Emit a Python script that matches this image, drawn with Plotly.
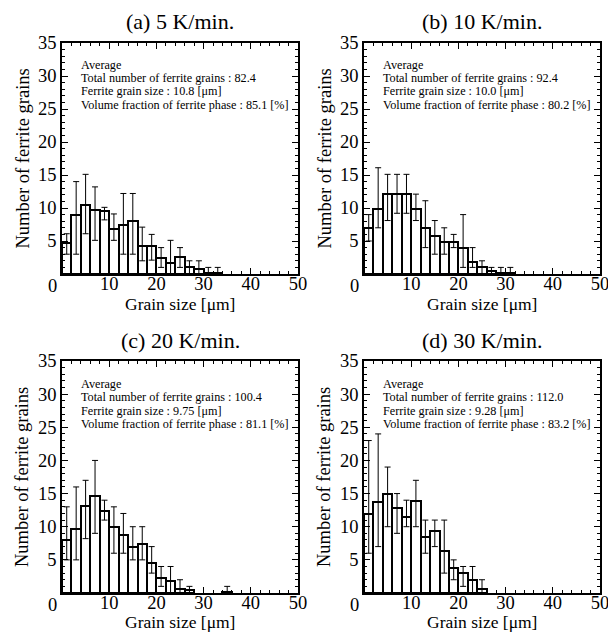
import plotly.graph_objects as go

# ---------------- data ----------------
bin_width = 2.0
panel_titles = ["(a) 5 K/min.", "(b) 10 K/min.", "(c) 20 K/min.", "(d) 30 K/min."]

a_counts = [4.7, 9.0, 10.5, 9.7, 9.5, 6.8, 7.5, 8.1, 4.2, 4.2, 2.5, 1.6, 2.6, 1.1, 0.8, 0.2, 0.2]
a_hi = [6.1, 14.0, 15.1, 13.2, 10.1, 9.1, 12.2, 12.2, 7.1, 6.0, 4.0, 5.1, 4.0, 2.0, 2.0, 1.0, 1.0]
a_lo = [3.0, 3.0, 6.1, 5.1, 8.2, 5.1, 3.0, 3.0, 2.0, 2.1, 1.0, 0.0, 1.0, 0.0, 0.0, 0.0, 0.0]

b_counts = [7.0, 9.9, 12.1, 12.1, 12.1, 9.9, 7.0, 5.7, 4.8, 4.8, 4.0, 1.8, 1.0, 0.5, 0.2, 0.2]
b_hi = [9.0, 16.1, 15.1, 15.1, 15.1, 12.1, 11.1, 8.1, 7.0, 6.0, 9.0, 4.0, 2.0, 1.0, 1.0, 1.0]
b_lo = [5.0, 7.0, 8.1, 9.2, 9.2, 8.1, 4.0, 3.0, 3.0, 4.0, 1.0, 1.0, 0.0, 0.0, 0.0, 0.0]

c_counts = [8.0, 9.7, 13.2, 14.6, 12.3, 10.0, 8.7, 7.0, 7.4, 4.6, 2.3, 1.8, 0.6, 0.4, 0, 0, 0, 0.2]
c_hi = [13.0, 16.0, 17.0, 20.0, 14.0, 13.0, 12.0, 10.0, 10.0, 7.0, 4.0, 4.0, 2.0, 1.0, 0, 0, 0, 1.0]
c_lo = [5.0, 5.0, 8.2, 9.0, 11.0, 6.0, 6.0, 5.0, 5.0, 3.0, 1.0, 0.0, 0.0, 0.0, 0, 0, 0, 0.0]

d_counts = [11.9, 13.7, 15.0, 12.8, 11.4, 13.9, 8.5, 9.4, 6.4, 3.8, 3.0, 2.0, 0.6]
d_hi = [23.0, 24.0, 19.0, 15.0, 14.0, 17.0, 11.0, 11.0, 11.0, 5.0, 4.0, 4.0, 2.0]
d_lo = [6.0, 7.0, 10.0, 9.0, 10.0, 10.0, 6.0, 7.0, 3.0, 2.0, 1.0, 0.0, 0.0]

total_grains = ["82.4", "92.4", "100.4", "112.0"]
grain_size = ["10.8", "10.0", "9.75", "9.28"]
vol_fraction = ["85.1", "80.2", "81.1", "83.2"]

x_ticks = [10, 20, 30, 40, 50]
y_ticks = [5, 10, 15, 20, 25, 30, 35]

# ---------------- layout geometry ----------------
# The page body has an 8px margin, so the figure is drawn 8px smaller
# and positions are given in window pixels minus that offset.
OFF = 8
W, H = 616 - OFF, 633 - OFF
FONT = "Liberation Serif"


def px(X):
    return (X - OFF) / W


def py(Y):
    return 1 - (Y - OFF) / H


x_domains = [(px(62), px(298)), (px(364), px(600))]
plot_top = [43, 361]
plot_bottom = [274, 593]
y_domains = [(py(plot_bottom[r]), py(plot_top[r])) for r in range(2)]
title_y = [22, 340]
xtitle_y = [303.5, 622.3]
ytitle_x = 22
stats_line_offsets = [-209.5, -196.0, -182.5, -169.0]  # px relative to plot bottom

panels = [
    (a_counts, a_hi, a_lo),
    (b_counts, b_hi, b_lo),
    (c_counts, c_hi, c_lo),
    (d_counts, d_hi, d_lo),
]

fig = go.Figure()
annotations = []
layout_axes = {}

for i, (counts, hi, lo) in enumerate(panels):
    col = i % 2
    row = i // 2
    n = i + 1
    xa = "x" if n == 1 else f"x{n}"
    ya = "y" if n == 1 else f"y{n}"
    xs, ys, ep, em = [], [], [], []
    for k, c in enumerate(counts):
        if c <= 0:
            continue
        xs.append(bin_width * k + bin_width / 2)
        ys.append(c)
        ep.append(hi[k] - c)
        em.append(c - lo[k])
    fig.add_trace(go.Bar(
        x=xs, y=ys, width=bin_width, xaxis=xa, yaxis=ya,
        marker=dict(color="white", line=dict(color="black", width=2)),
        error_y=dict(type="data", array=ep, arrayminus=em, symmetric=False,
                     color="black", thickness=1, width=3),
        showlegend=False,
    ))
    axis_common = dict(
        showline=True, linecolor="black", linewidth=1.5, mirror="allticks",
        ticks="inside", ticklen=6, tickwidth=1, tickcolor="black",
        showgrid=False, zeroline=False, automargin=False,
        tickfont=dict(family=FONT, size=18.5, color="black"),
    )
    layout_axes["xaxis" if n == 1 else f"xaxis{n}"] = dict(
        axis_common, domain=list(x_domains[col]), range=[0, 50],
        anchor=ya, tickvals=x_ticks, ticklabelstandoff=-8,
        minor=dict(ticks="inside", dtick=2, ticklen=3, tickcolor="black", tickwidth=1),
    )
    layout_axes["yaxis" if n == 1 else f"yaxis{n}"] = dict(
        axis_common, domain=list(y_domains[row]), range=[0, 35],
        anchor=xa, tickvals=y_ticks,
        minor=dict(ticks="inside", dtick=1, ticklen=3, tickcolor="black", tickwidth=1),
    )
    # origin "0" label shifted left of the corner
    annotations.append(dict(
        x=0, y=0, xref=xa, yref=ya, text="0", showarrow=False,
        xanchor="center", yanchor="top", xshift=-10, yshift=-1, borderpad=0,
        font=dict(family=FONT, size=18.5, color="black"),
    ))
    # stats text, one annotation per line for tight spacing
    lines = ["Average",
             "Total number of ferrite grains : " + total_grains[i],
             "Ferrite grain size : " + grain_size[i] + " [μm]",
             "Volume fraction of ferrite phase : " + vol_fraction[i] + " [%]"]
    xd = x_domains[col]
    yd = y_domains[row]
    for li, line in enumerate(lines):
        annotations.append(dict(
            x=xd[0] + 18 / W, y=py(plot_bottom[row] + stats_line_offsets[li]),
            xref="paper", yref="paper", text=line, showarrow=False,
            xanchor="left", yanchor="middle", align="left", borderpad=0,
            font=dict(family=FONT, size=12.2, color="black"),
        ))
    # panel title
    annotations.append(dict(
        x=(xd[0] + xd[1]) / 2, y=py(title_y[row]), xref="paper", yref="paper",
        text=panel_titles[i], showarrow=False, xanchor="center", yanchor="middle",
        font=dict(family=FONT, size=22, color="black"),
    ))
    # x-axis title
    annotations.append(dict(
        x=(xd[0] + xd[1]) / 2, y=py(xtitle_y[row]), xref="paper", yref="paper",
        text="Grain size [μm]", showarrow=False, xanchor="center", yanchor="middle",
        borderpad=0, font=dict(family=FONT, size=17.5, color="black"),
    ))
    # y-axis title
    annotations.append(dict(
        x=px(ytitle_x + col * 302), y=(yd[0] + yd[1]) / 2, xref="paper", yref="paper",
        text="Number of ferrite grains", showarrow=False, textangle=-90,
        xanchor="center", yanchor="middle",
        font=dict(family=FONT, size=18.5, color="black"),
    ))

fig.update_layout(
    width=W, height=H,
    margin=dict(l=0, r=0, t=0, b=0),
    paper_bgcolor="white", plot_bgcolor="white",
    annotations=annotations,
    bargap=0,
    **layout_axes,
)

fig.write_html("out.html")
